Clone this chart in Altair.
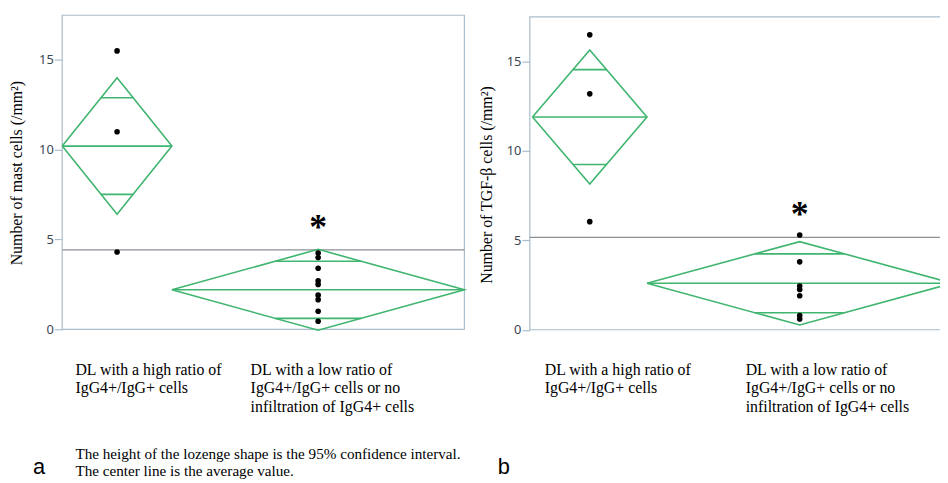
import math
import altair as alt
import pandas as pd

# ---------------- data ----------------
group_labels = [
    "DL with a high ratio of\nIgG4+/IgG+ cells",
    "DL with a low ratio of\nIgG4+/IgG+ cells or no\ninfiltration of IgG4+ cells",
]
group_n = [3, 8]

# panel a : mast cells
mast_mean = [10.2, 2.2]
mast_ci_half = [3.8, 2.25]
mast_grand_mean = 4.42
mast_pts_high = [15.5, 11.0, 4.3]
mast_pts_low = [4.25, 4.0, 3.4, 2.7, 2.5, 1.9, 1.65, 1.0, 0.45]
mast_star = 5.9
mast_title = "Number of mast cells (/mm²)"

# panel b : TGF-beta cells
tgf_mean = [11.9, 2.6]
tgf_ci_half = [3.75, 2.33]
tgf_grand_mean = 5.17
tgf_pts_high = [16.5, 13.2, 6.05]
tgf_pts_low = [5.3, 3.8, 2.45, 2.25, 1.9, 0.8, 0.6]
tgf_star = 6.7
tgf_title = "Number of TGF-β cells (/mm²)"

y_ticks = [0, 5, 10, 15]
footnote = "The height of the lozenge shape is the 95% confidence interval.\nThe center line is the average value."
panel_letters = ["a", "b"]

# ---------------- style ----------------
W, H = 940, 475
GREEN = "#3fb56f"
GREY = "#8c9196"
FRAME = "#a9bdcc"
LABEL = "#3d4853"
SERIF = "Liberation Serif"
SANS = "Liberation Sans"


def panel(mean, ci, grand, pts_high, pts_low, star, title,
          xr, yr, frame, offset, title_x, title_y):
    xs = alt.Scale(domain=[0, sum(group_n)], range=xr, nice=False, zero=False)
    ys = alt.Scale(domain=[0, 17.5], range=yr, nice=False, zero=False)

    poly, rules, centers = [], [], []
    start = 0
    for g, (m, c, n) in enumerate(zip(mean, ci, group_n)):
        l, r = start, start + n
        cx = (l + r) / 2
        centers.append(cx)
        for k, (x, y) in enumerate([(l, m), (cx, m + c), (r, m), (cx, m - c), (l, m)]):
            poly.append(dict(g=g, k=k, x=x, y=y))
        rules.append(dict(x=l, x2=r, y=m))
        h = n / 2 * (1 - 1 / math.sqrt(2))
        for s in (1, -1):
            rules.append(dict(x=cx - h, x2=cx + h, y=m + s * c / math.sqrt(2)))
        start = r

    pts = pd.DataFrame(
        [dict(x=centers[0], y=v) for v in pts_high] +
        [dict(x=centers[1], y=v) for v in pts_low]
    )

    frame_l = alt.Chart(alt.Data(values=[{}])).mark_rect(
        fillOpacity=0, stroke=FRAME, strokeWidth=1.2
    ).encode(x=alt.value(frame[0]), x2=alt.value(frame[2]),
             y=alt.value(frame[1]), y2=alt.value(frame[3]))

    grand_l = alt.Chart(pd.DataFrame({"y": [grand]})).mark_rule(
        color=GREY, strokeWidth=1.3
    ).encode(x=alt.value(frame[0]), x2=alt.value(frame[2]),
             y=alt.Y("y:Q", scale=ys, axis=None))

    diamond = alt.Chart(pd.DataFrame(poly)).mark_line(
        color=GREEN, strokeWidth=1.6
    ).encode(x=alt.X("x:Q", scale=xs, axis=None),
             y=alt.Y("y:Q", scale=ys, axis=None),
             detail="g:N", order="k:Q")

    rule_l = alt.Chart(pd.DataFrame(rules)).mark_rule(
        color=GREEN, strokeWidth=1.6
    ).encode(x=alt.X("x:Q", scale=xs, axis=None), x2="x2:Q",
             y=alt.Y("y:Q", scale=ys, axis=None))

    axis = alt.Axis(
        orient="left", offset=offset, values=y_ticks, domain=False, grid=False,
        tickSize=8, tickColor=FRAME, tickWidth=1.2,
        labelFont="Noto Sans", labelFontSize=13, labelColor=LABEL, labelPadding=1,
        title=title, titleFont=SERIF, titleFontSize=16, titleFontWeight="normal",
        titleColor="black", titleX=title_x, titleY=title_y,
    )
    pts_l = alt.Chart(pts).mark_circle(color="black", opacity=1, size=32).encode(
        x=alt.X("x:Q", scale=xs, axis=None),
        y=alt.Y("y:Q", scale=ys, axis=axis),
    )

    star_l = alt.Chart(pd.DataFrame({"x": [centers[1]], "y": [star]})).mark_text(
        text="*", font=SERIF, fontSize=36, fontWeight="bold", color="black",
        baseline="alphabetic", dy=16
    ).encode(x=alt.X("x:Q", scale=xs, axis=None),
             y=alt.Y("y:Q", scale=ys, axis=None))

    return [frame_l, grand_l, diamond, rule_l, pts_l, star_l]


def text_layer(txt, x, y, font=SERIF, size=16, lh=18.5):
    return alt.Chart(pd.DataFrame({"t": [txt]})).mark_text(
        font=font, fontSize=size, align="left", baseline="alphabetic",
        lineBreak="\n", lineHeight=lh, color="black"
    ).encode(x=alt.value(x), y=alt.value(y), text="t:N")


layers = []
layers += panel(mast_mean, mast_ci_half, mast_grand_mean, mast_pts_high, mast_pts_low,
                mast_star, mast_title,
                xr=[54.7, 460.3], yr=[322, 5], frame=(54.7, 5.3, 460.3, 322),
                offset=-54.7, title_x=-38, title_y=164)
layers += panel(tgf_mean, tgf_ci_half, tgf_grand_mean, tgf_pts_high, tgf_pts_low,
                tgf_star, tgf_title,
                xr=[529, 952.5], yr=[322.5, 7], frame=(526.3, 7, 975, 322.5),
                offset=-526.3, title_x=-36, title_y=176)

layers += [
    text_layer(group_labels[0], 68, 368),
    text_layer(group_labels[1], 244.7, 368),
    text_layer(group_labels[0], 541.3, 368),
    text_layer(group_labels[1], 744, 368),
    text_layer(footnote, 68, 453, size=15.3, lh=16.5),
    text_layer(panel_letters[0], 25.3, 468, font=SANS, size=22),
    text_layer(panel_letters[1], 494, 468, font=SANS, size=22),
]

chart = alt.layer(*layers).resolve_scale(
    x="independent", y="independent"
).properties(
    width=W, height=H, autosize=alt.AutoSizeParams(type="none"), padding=0,
    background="white",
).configure_view(stroke=None)

chart.save("out.html", embed_options={"renderer": "svg", "actions": False})
